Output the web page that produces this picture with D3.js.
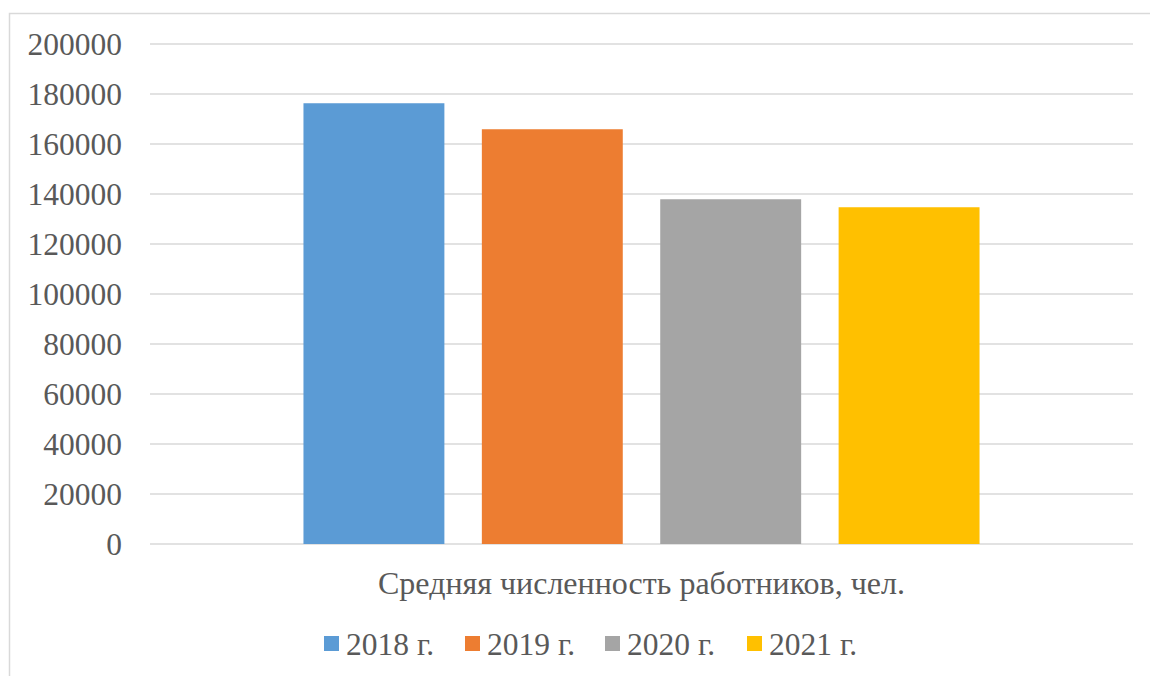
<!DOCTYPE html>
<html>
<head>
<meta charset="utf-8">
<script src="https://cdn.jsdelivr.net/npm/d3@7"></script>
<style>
  body { margin: 0; background: #fff; }
  text { font-family: "Liberation Serif", "Times New Roman", serif; fill: #595959; }
</style>
</head>
<body>
<div id="chart"></div>
<script>
// data
var categories = ["Средняя численность работников, чел."];
var seriesNames = ["2018 г.", "2019 г.", "2020 г.", "2021 г."];
var seriesValues = [176300, 165900, 137900, 134700];
var seriesColors = ["#5b9bd5", "#ed7d31", "#a5a5a5", "#ffc000"];
var yTicks = [0, 20000, 40000, 60000, 80000, 100000, 120000, 140000, 160000, 180000, 200000];

var width = 1150, height = 676;
var margin = {left: 150, right: 17, top: 44, bottom: 132};
var serif = "'Liberation Serif', 'Times New Roman', serif";

var svg = d3.select("#chart").append("svg")
    .attr("width", width)
    .attr("height", height);

// chart border (runs off right and bottom edge like the original)
svg.append("rect")
    .attr("x", 9.5).attr("y", 13.5)
    .attr("width", width).attr("height", height)
    .attr("fill", "none")
    .attr("stroke", "#d9d9d9")
    .attr("stroke-width", 1.5);

var y = d3.scaleLinear()
    .domain([0, 200000])
    .range([height - margin.bottom, margin.top]);

var x0 = d3.scaleBand()
    .domain(categories)
    .range([margin.left, width - margin.right])
    .paddingOuter(0.227);

var x1 = d3.scaleBand()
    .domain(seriesNames)
    .range([0, x0.bandwidth()])
    .paddingInner(0.21);

// gridlines
svg.append("g").selectAll("line")
    .data(yTicks)
    .enter().append("line")
    .attr("x1", margin.left)
    .attr("x2", width - margin.right)
    .attr("y1", function(d) { return y(d); })
    .attr("y2", function(d) { return y(d); })
    .attr("stroke", "#d9d9d9")
    .attr("stroke-width", 1.5);

// y axis labels
var yAxis = d3.axisLeft(y)
    .tickValues(yTicks)
    .tickFormat(d3.format("d"))
    .tickSize(0)
    .tickPadding(28);
var gy = svg.append("g")
    .attr("transform", "translate(" + margin.left + ",0)")
    .call(yAxis);
gy.select(".domain").remove();
gy.selectAll("text")
    .style("font-family", serif)
    .style("font-size", "31.5px")
    .style("fill", "#595959")
    .attr("dy", "0.34em");

// bars
var rows = seriesNames.map(function(n, i) { return {name: n, value: seriesValues[i], color: seriesColors[i]}; });
svg.append("g").selectAll("rect")
    .data(rows)
    .enter().append("rect")
    .attr("x", function(d) { return x0(categories[0]) + x1(d.name); })
    .attr("y", function(d) { return y(d.value); })
    .attr("width", x1.bandwidth())
    .attr("height", function(d) { return y(0) - y(d.value); })
    .attr("fill", function(d) { return d.color; });

// category label
svg.append("text")
    .attr("x", x0(categories[0]) + x0.bandwidth() / 2)
    .attr("y", 594)
    .attr("text-anchor", "middle")
    .style("font-family", serif)
    .style("font-size", "32px")
    .text(categories[0]);

// legend
var legendX = [324, 465, 605, 747];
var legend = svg.append("g").selectAll("g")
    .data(rows)
    .enter().append("g")
    .attr("transform", function(d, i) { return "translate(" + legendX[i] + ",636)"; });
legend.append("rect")
    .attr("width", 15).attr("height", 15)
    .attr("fill", function(d) { return d.color; });
legend.append("text")
    .attr("x", 22)
    .attr("y", 19)
    .style("font-family", serif)
    .style("font-size", "31.5px")
    .text(function(d) { return d.name; });
</script>
</body>
</html>
